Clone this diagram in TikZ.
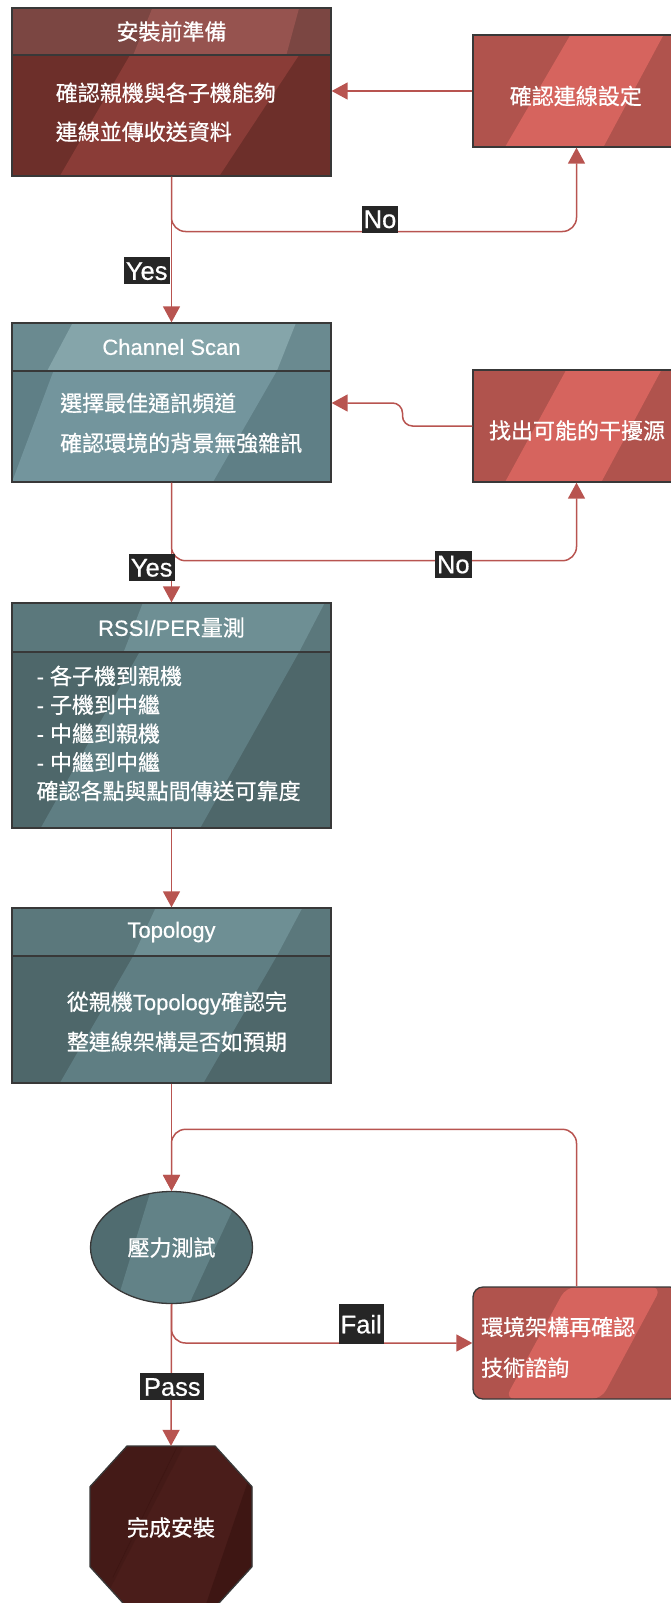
\documentclass[tikz,border=0pt]{standalone}
\usepackage{fontspec}
\setmainfont{Liberation Sans}
\newfontfamily\cjk[FakeBold=0.6]{Noto Sans CJK TC}
\newfontfamily\lat[FakeBold=0.6]{Liberation Sans}
\usetikzlibrary{arrows.meta,shapes.geometric,calc}
\definecolor{lc}{HTML}{B85450}
\definecolor{bc}{HTML}{383838}
\definecolor{labbg}{HTML}{262626}
\definecolor{hAc}{HTML}{7B4642}
\definecolor{hAs}{HTML}{96534F}
\definecolor{bAc}{HTML}{6D2F2A}
\definecolor{bAs}{HTML}{8A3C37}
\definecolor{rc}{HTML}{B0534D}
\definecolor{rs}{HTML}{D6645E}
\definecolor{hBc}{HTML}{6A8A90}
\definecolor{hBs}{HTML}{85A5AA}
\definecolor{bBc}{HTML}{5F7F86}
\definecolor{bBs}{HTML}{73959D}
\definecolor{hCc}{HTML}{5B787C}
\definecolor{hCs}{HTML}{6E8F94}
\definecolor{bCc}{HTML}{4E676A}
\definecolor{bCs}{HTML}{5F7E83}
\definecolor{ec}{HTML}{506C70}
\definecolor{es}{HTML}{628287}
\definecolor{oc}{HTML}{4A1D1A}
\definecolor{od}{HTML}{3E1613}
\definecolor{ol}{HTML}{441A17}
\tikzset{
  stripe/.style n args={5}{path picture={
    \fill[#1] ($(path picture bounding box.south west)!#2!(path picture bounding box.south east)$)
      -- ($(path picture bounding box.south west)!#3!(path picture bounding box.south east)$)
      -- ($(path picture bounding box.north west)!#5!(path picture bounding box.north east)$)
      -- ($(path picture bounding box.north west)!#4!(path picture bounding box.north east)$) -- cycle;}},
  box/.style={draw=bc, line width=1.3pt, rectangle, inner sep=0pt, text=white},
  headtxt/.style={font=\cjk\fontsize{22}{26}\selectfont},
  txt/.style={text=white, inner sep=0pt, anchor=west, align=left},
  arr/.style={draw=lc, line width=1.5pt, -{Triangle[length=16pt,width=17pt]}},
  lab/.style={fill=labbg, text=white, font=\lat\fontsize{25.5}{26}\selectfont,
    inner xsep=2pt, inner ysep=4pt, text height=18.5pt, text depth=0.5pt},
}
\begin{document}
\begin{tikzpicture}[x=1pt,y=-1pt]
\useasboundingbox (0,0) rectangle (671,1603);

% ---- box 1
\node[box, headtxt, fill=hAc, stripe={hAs}{0.38}{0.86}{0.44}{0.90},
  minimum width=319pt, minimum height=47pt] (h1) at (171.5,31.5) {安裝前準備};
\node[box, fill=bAc, stripe={bAs}{0.15}{0.65}{0.37}{0.90},
  minimum width=319pt, minimum height=121pt] (b1) at (171.5,115.5) {};
\node[txt, font=\cjk\fontsize{22}{39}\selectfont] (t1) at (55.6,112.2)
  {確認親機與各子機能夠\\連線並傳收送資料};

\node[box, fill=rc, stripe={rs}{0.155}{0.63}{0.47}{0.92},
  minimum width=207pt, minimum height=112pt] (r1) at (576.5,91) {};
\node[text=white, inner sep=0pt, font=\cjk\fontsize{22}{26}\selectfont] (tr1) at (575.8,96) {確認連線設定};

% ---- box 2
\node[box, fill=hBc, stripe={hBs}{0.11}{0.83}{0.19}{0.89},
  minimum width=319pt, minimum height=48pt, font=\lat\fontsize{22}{26}\selectfont] (h2) at (171.5,347) {Channel Scan};
\node[box, fill=bBc, stripe={bBs}{0.0}{0.63}{0.13}{0.83},
  minimum width=319pt, minimum height=111pt] (b2) at (171.5,426.5) {};
\node[txt, font=\cjk\fontsize{22}{40}\selectfont] (t2) at (60,423)
  {選擇最佳通訊頻道\\確認環境的背景無強雜訊};

\node[box, fill=rc, stripe={rs}{0.155}{0.62}{0.45}{0.91},
  minimum width=207pt, minimum height=112pt] (r2) at (576.5,426) {};
\node[text=white, inner sep=0pt, font=\cjk\fontsize{22}{26}\selectfont] (tr2) at (577,430.5) {找出可能的干擾源};

% ---- box 3
\node[box, headtxt, fill=hCc, stripe={hCs}{0.35}{0.90}{0.41}{0.98},
  minimum width=319pt, minimum height=49pt] (h3) at (171.5,627.5) {{\lat RSSI/PER}量測};
\node[box, fill=bCc, stripe={bCs}{0.09}{0.59}{0.40}{0.90},
  minimum width=319pt, minimum height=176pt] (b3) at (171.5,740) {};
\node[txt, font=\cjk\fontsize{22}{28.75}\selectfont] (t3) at (36.4,733.5)
  {{\lat - }各子機到親機\\{\lat - }子機到中繼\\{\lat - }中繼到親機\\{\lat - }中繼到中繼\\確認各點與點間傳送可靠度};

% ---- box 4
\node[box, fill=hCc, stripe={hCs}{0.38}{0.83}{0.45}{0.91},
  minimum width=319pt, minimum height=48pt, font=\lat\fontsize{22}{26}\selectfont] (h4) at (171.5,932) {Topology};
\node[box, fill=bCc, stripe={bCs}{0.15}{0.60}{0.38}{0.83},
  minimum width=319pt, minimum height=127pt] (b4) at (171.5,1019.5) {};
\node[txt, font=\cjk\fontsize{22}{40}\selectfont] (t4) at (66.7,1021.7)
  {從親機{\lat Topology}確認完\\整連線架構是否如預期};

% ---- ellipse
\node[draw=bc, line width=1.3pt, ellipse, fill=ec, stripe={es}{0.16}{0.61}{0.37}{0.93},
  minimum width=162pt, minimum height=112pt, inner sep=0pt, text=white,
  font=\cjk\fontsize{22}{26}\selectfont] (e) at (171.5,1247.5) {壓力測試};

% ---- box r3
\node[box, rounded corners=10pt, fill=rc, stripe={rs}{0.155}{0.62}{0.45}{0.91},
  minimum width=207pt, minimum height=112pt] (r3) at (576.5,1343) {};
\node[txt, font=\cjk\fontsize{22}{40.7}\selectfont] (t5) at (481,1347.3)
  {環境架構再確認\\技術諮詢};

% ---- octagon
\node[inner sep=0pt, minimum width=162pt, minimum height=161.4pt] (oct) at (171,1526.7) {};
\begin{scope}
  \clip (127,1446) -- (215,1446) -- (252,1486.7) -- (252,1566.7) -- (215,1607.4)
    -- (127,1607.4) -- (90,1566.7) -- (90,1486.7) -- cycle;
  \fill[oc] (80,1440) rectangle (260,1610);
  \fill[ol] (80,1440) -- (187,1440) -- (99,1610) -- (80,1610) -- cycle;
  \fill[od] (262,1440) -- (270,1440) -- (270,1610) -- (204,1610) -- cycle;
  \draw[od, line width=0.6pt] (177,1447) -- (113,1577);
\end{scope}
\draw[bc, line width=1.3pt] (127,1446) -- (215,1446) -- (252,1486.7) -- (252,1566.7) -- (215,1607.4)
    -- (127,1607.4) -- (90,1566.7) -- (90,1486.7) -- cycle;
\node[text=white, inner sep=0pt, font=\cjk\fontsize{22}{26}\selectfont] (to) at (171,1527.5) {完成安裝};

% ---- coordinates for bends
\coordinate (k1) at (171.5,231.5);
\coordinate (k2a) at (402.5,426);
\coordinate (k2b) at (402.5,403);
\coordinate (b2in) at (b2.east |- k2b);
\coordinate (k3) at (171.5,560.7);
\coordinate (k4) at (171.5,1129.3);

% ---- connectors
\draw[arr] (r1.west) -- (r1.west -| b1.east);
\draw[arr] (b1.south) -- (h2.north);
\draw[arr, rounded corners=14pt] (b1.south) -- (k1) -| (r1.south);
\draw[arr, rounded corners=10pt] (r2.west) -- (k2a) -- (k2b) -- (b2in);
\draw[arr] (b2.south) -- (h3.north);
\draw[arr, rounded corners=14pt] (b2.south) -- (k3) -| (r2.south);
\draw[arr] (b3.south) -- (h4.north);
\draw[arr] (b4.south) -- (e.north);
\draw[arr, rounded corners=14pt] (r3.north) |- (k4) -- (e.north);
\draw[arr, rounded corners=14pt] (e.south) |- (r3.west);
\draw[arr] (e.south) -- (oct.north);

% ---- labels
\node[lab] (lno1) at (380,219) {No};
\node[lab] (lyes1) at (146.7,270.8) {Yes};
\node[lab] (lno2) at (453.3,564.2) {No};
\node[lab] (lyes2) at (151.7,567.5) {Yes};
\node[lab, inner ysep=10.5pt] (lfail) at (361.2,1324.3) {Fail};
\node[lab, inner xsep=3.5pt] (lpass) at (172.3,1386.7) {Pass};
\end{tikzpicture}
\end{document}
